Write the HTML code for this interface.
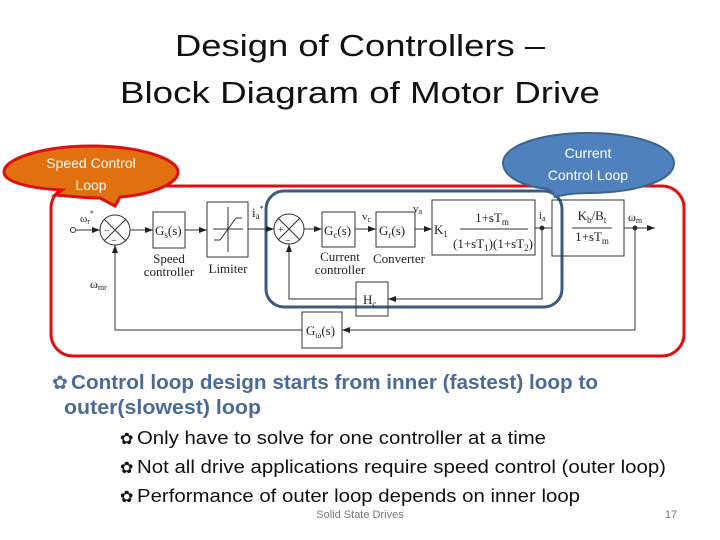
<!DOCTYPE html>
<html><head><meta charset="utf-8"><style>
html,body{margin:0;padding:0;background:#fff;}
svg{display:block;}
text{font-family:"Liberation Sans",sans-serif;}
.s text{font-family:"Liberation Serif",serif;fill:#222;}
</style></head><body>
<svg width="720" height="540" viewBox="0 0 720 540" xmlns="http://www.w3.org/2000/svg">
<defs><marker id="a" markerWidth="8" markerHeight="6" refX="8" refY="3" orient="auto" markerUnits="userSpaceOnUse"><path d="M0,0 L8,3 L0,6 z" fill="#222"/></marker></defs>
<text x="360" y="56" font-size="31" text-anchor="middle" fill="#111" textLength="370" lengthAdjust="spacingAndGlyphs">Design of Controllers –</text>
<text x="360" y="103" font-size="31" text-anchor="middle" fill="#111" textLength="480" lengthAdjust="spacingAndGlyphs">Block Diagram of Motor Drive</text>

<rect x="51" y="186" width="633" height="170" rx="22" fill="none" stroke="#e01010" stroke-width="3"/>
<rect x="266" y="191" width="296" height="116" rx="18" fill="none" stroke="#3b5b82" stroke-width="3"/>

<g stroke="#333" stroke-width="1" fill="none">
<circle cx="73" cy="230" r="2.5" fill="#fff"/>
<line x1="76" y1="230" x2="100" y2="230" marker-end="url(#a)"/>
<circle cx="115" cy="230" r="15"/>
<line x1="104" y1="219" x2="126" y2="241"/><line x1="126" y1="219" x2="104" y2="241"/>
<line x1="130" y1="230" x2="153" y2="230" marker-end="url(#a)"/>
<rect x="153" y="212" width="32" height="36"/>
<line x1="185" y1="230" x2="207" y2="230" marker-end="url(#a)"/>
<rect x="207" y="202" width="41" height="55"/>
<line x1="213" y1="229" x2="243" y2="229"/><line x1="228" y1="207" x2="228" y2="252"/>
<polyline points="214,240 220,240 236,218 242,218"/>
<line x1="248" y1="229" x2="274" y2="229" marker-end="url(#a)"/>
<circle cx="289" cy="229" r="15"/>
<line x1="278" y1="218" x2="300" y2="240"/><line x1="300" y1="218" x2="278" y2="240"/>
<line x1="304" y1="229" x2="322" y2="229" marker-end="url(#a)"/>
<rect x="322" y="212" width="33" height="35"/>
<line x1="355" y1="229" x2="376" y2="229" marker-end="url(#a)"/>
<rect x="376" y="212" width="39" height="35"/>
<line x1="415" y1="229" x2="432" y2="229" marker-end="url(#a)"/>
<rect x="432" y="200" width="103" height="55"/>
<line x1="460" y1="229" x2="528" y2="229"/>
<line x1="535" y1="228" x2="552" y2="228"/>
<circle cx="542" cy="228" r="2" fill="#222"/>
<rect x="552" y="200" width="72" height="56"/>
<line x1="572" y1="228" x2="612" y2="228"/>
<line x1="624" y1="228" x2="655" y2="228" marker-end="url(#a)"/>
<circle cx="635" cy="228" r="2" fill="#222"/>
<polyline points="542,228 542,299 388,299" marker-end="url(#a)"/>
<rect x="356" y="282" width="32" height="34"/>
<polyline points="356,299 289,299 289,244" marker-end="url(#a)"/>
<polyline points="635,228 635,330 342,330" marker-end="url(#a)"/>
<rect x="302" y="312" width="40" height="36"/>
<polyline points="302,330 115,330 115,245" marker-end="url(#a)"/>
</g>
<g class="s" font-size="13">
<text x="80" y="222" font-size="11">ω<tspan font-size="8" dy="2">r</tspan><tspan font-size="8" dy="-8">*</tspan></text>
<text x="104" y="234" font-size="10">−</text><text x="111" y="244" font-size="10">−</text>
<text x="155" y="235">G<tspan font-size="9" dy="3">s</tspan><tspan dy="-3">(s)</tspan></text>
<text x="169" y="263" text-anchor="middle">Speed</text>
<text x="169" y="276" text-anchor="middle">controller</text>
<text x="228" y="273" text-anchor="middle">Limiter</text>
<text x="252" y="217">i<tspan font-size="9" dy="2">a</tspan><tspan font-size="8" dy="-8">*</tspan></text>
<text x="278" y="233" font-size="10">+</text><text x="285" y="244" font-size="10">−</text>
<text x="324" y="235">G<tspan font-size="9" dy="3">c</tspan><tspan dy="-3">(s)</tspan></text>
<text x="340" y="261" text-anchor="middle">Current</text>
<text x="340" y="274" text-anchor="middle">controller</text>
<text x="362" y="220" font-size="11">v<tspan font-size="8" dy="2">c</tspan></text>
<text x="379" y="235">G<tspan font-size="9" dy="3">r</tspan><tspan dy="-3">(s)</tspan></text>
<text x="399" y="263" text-anchor="middle">Converter</text>
<text x="413" y="212" font-size="11">v<tspan font-size="8" dy="2">a</tspan></text>
<text x="434" y="234">K<tspan font-size="9" dy="3">1</tspan></text>
<text x="492" y="222" text-anchor="middle">1+sT<tspan font-size="9" dy="3">m</tspan></text>
<text x="493" y="248" text-anchor="middle">(1+sT<tspan font-size="9" dy="3">1</tspan><tspan dy="-3">)(1+sT</tspan><tspan font-size="9" dy="3">2</tspan><tspan dy="-3">)</tspan></text>
<text x="539" y="219" font-size="11">i<tspan font-size="8" dy="2">a</tspan></text>
<text x="592" y="220" text-anchor="middle">K<tspan font-size="9" dy="3">b</tspan><tspan dy="-3">/B</tspan><tspan font-size="9" dy="3">t</tspan></text>
<text x="592" y="241" text-anchor="middle">1+sT<tspan font-size="9" dy="3">m</tspan></text>
<text x="628" y="221" font-size="12">ω<tspan font-size="8" dy="2">m</tspan></text>
<text x="363" y="304">H<tspan font-size="9" dy="3">c</tspan></text>
<text x="306" y="335">G<tspan font-size="9" dy="3">ω</tspan><tspan dy="-3">(s)</tspan></text>
<text x="90" y="288" font-size="12">ω<tspan font-size="8" dy="2">mr</tspan></text>
</g>

<path d="M55,195 L62,190 C25,188 4,181 4,172 C4,158 45,146 91,146 C137,146 178,158 178,172 C178,184 150,195 120,197 L115,206 L100,198 C85,198 70,196 55,195 Z" fill="#e07010" stroke="#e01010" stroke-width="3"/>
<text x="91" y="168" font-size="14" fill="#fff" text-anchor="middle">Speed  Control</text>
<text x="91" y="190" font-size="14" fill="#fff" text-anchor="middle">Loop</text>
<path d="M555,197 C552,190 548,188 540,188 C518,184 503,175 503,163 C503,146 540,133 588,133 C636,133 674,146 674,163 C674,180 640,192 590,193 C575,193 562,195 555,197 Z" fill="#4f81bd" stroke="#3b6590" stroke-width="2"/>
<text x="588" y="158" font-size="14" fill="#fff" text-anchor="middle">Current</text>
<text x="588" y="180" font-size="14" fill="#fff" text-anchor="middle">Control Loop</text>

<text x="52" y="389" font-size="19" fill="#4f6fa0">✿</text>
<text x="71" y="389" font-size="20" font-weight="bold" fill="#4a6a9c" textLength="527" lengthAdjust="spacingAndGlyphs">Control loop design starts from inner (fastest) loop to</text>
<text x="64" y="414" font-size="20" font-weight="bold" fill="#4a6a9c" textLength="197" lengthAdjust="spacingAndGlyphs">outer(slowest) loop</text>
<g font-size="18" fill="#111">
<text x="120" y="444" font-size="16">✿</text>
<text x="137" y="444" textLength="409" lengthAdjust="spacingAndGlyphs">Only have to solve for one controller at a time</text>
<text x="120" y="473" font-size="16">✿</text>
<text x="137" y="473" textLength="529" lengthAdjust="spacingAndGlyphs">Not all drive applications require speed control (outer loop)</text>
<text x="120" y="502" font-size="16">✿</text>
<text x="137" y="502" textLength="443" lengthAdjust="spacingAndGlyphs">Performance of outer loop depends on inner loop</text>
</g>
<text x="360" y="518" font-size="11" fill="#777" text-anchor="middle">Solid State Drives</text>
<text x="671" y="518" font-size="11" fill="#777" text-anchor="middle">17</text>
</svg>
</body></html>
